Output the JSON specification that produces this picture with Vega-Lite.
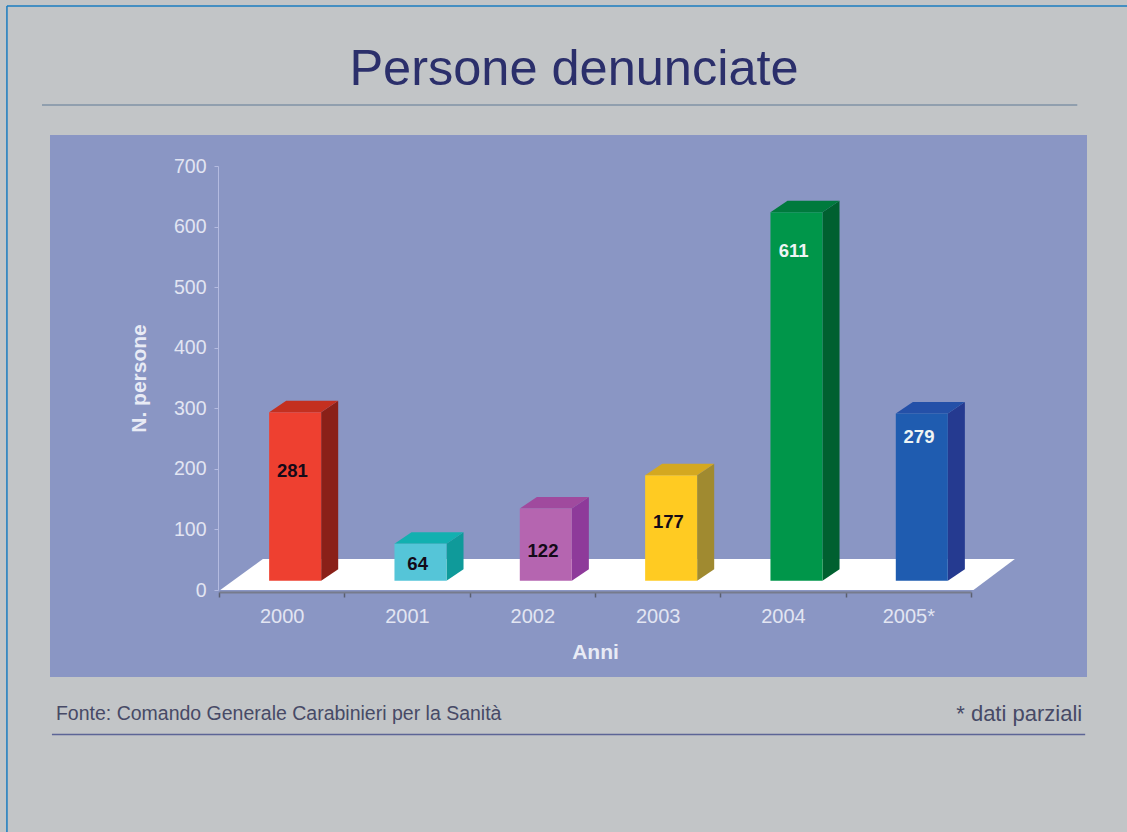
{
"$schema":"https://vega.github.io/schema/vega-lite/v6.json",
"autosize":{"type":"none"},
"padding":{"left":50,"top":135,"right":40,"bottom":155},
"width":1037,"height":542,
"background":"#c2c5c7",
"config":{"view":{"fill":"#8a96c4","stroke":null},"font":"Liberation Sans"},
"title":{"text":"Persone denunciate","font":"Liberation Sans","fontSize":50.5,"fontWeight":"normal","color":"#2b2f6b","anchor":"middle","baseline":"alphabetic","offset":-130,"dx":5.5},
"data":{"values":[
{"year":"2000","value":281,"labelAt":196},
{"year":"2001","value":64,"labelAt":43},
{"year":"2002","value":122,"labelAt":64},
{"year":"2003","value":177,"labelAt":112},
{"year":"2004","value":611,"labelAt":559},
{"year":"2005","value":279,"labelAt":252}
]},
"transform":[
{"calculate":"toNumber(datum.year)-2000","as":"idx"},
{"calculate":"datum.idx+0.4","as":"xl"},
{"calculate":"datum.idx+0.815","as":"xr"},
{"calculate":"datum.value+12.5","as":"top"}
],
"resolve":{"axis":{"x":"independent","y":"independent"}},
"layer":[
{"data":{"values":[{"fx":0.01,"lo":0,"hi":0},{"fx":0.35,"lo":0,"hi":51},{"fx":6.02,"lo":0,"hi":51},{"fx":6.35,"lo":51,"hi":51}]},
"mark":{"type":"area","color":"#ffffff","orient":"vertical"},
"encoding":{
"x":{"field":"fx","type":"quantitative","scale":{"domain":[0,6],"range":[169,921],"nice":false,"zero":false},
"axis":{"orient":"bottom","values":[0,1,2,3,4,5,6],"labels":false,"title":null,"grid":false,"offset":-85,"domainColor":"#767b8c","domainWidth":2,"tickColor":"#5a5f70","tickSize":5,"tickWidth":1.5}},
"y":{"field":"lo","type":"quantitative","stack":null,"scale":{"domain":[0,700],"range":[455,31],"nice":false},
"axis":{"orient":"left","values":[0,100,200,300,400,500,600,700],"title":"N. persone","titleFont":"Liberation Sans","titleFontSize":21,"titleFontWeight":"bold","titleColor":"#e8ebf5","titlePadding":24,"grid":false,"offset":-168,"domainColor":"#b4bbe0","tickColor":"#b4bbe0","tickSize":4,"labelColor":"#e2e5f2","labelFontSize":19.5,"labelFont":"Liberation Sans","labelPadding":8}},
"y2":{"field":"hi"}
}},
{"mark":{"type":"area","orient":"vertical"},
"transform":[{"calculate":"[0,1]","as":"t"},{"flatten":["t"]},
{"calculate":"datum.xr+0.136*datum.t","as":"px"},
{"calculate":"15.4+19*datum.t","as":"lo"},
{"calculate":"datum.top+19*datum.t","as":"hi"},
{"calculate":"datum.year+' side'","as":"face"}],
"encoding":{
"x":{"field":"px","type":"quantitative","scale":{"domain":[0,6],"range":[169,921],"nice":false,"zero":false},"axis":null},
"y":{"field":"lo","type":"quantitative","stack":null,"scale":{"domain":[0,700],"range":[455,31],"nice":false},"axis":null},
"y2":{"field":"hi"},
"color":{"field":"face","type":"nominal","legend":null,"scale":{"domain":["2000 side","2001 side","2002 side","2003 side","2004 side","2005 side","2000 top","2001 top","2002 top","2003 top","2004 top","2005 top","2000 front","2001 front","2002 front","2003 front","2004 front","2005 front"],"range":["#8a2018","#0f9a9a","#8e3a9a","#a08a30","#006030","#253a90","#c43020","#12b0b0","#a04a9e","#d4a820","#007a3d","#2450a8","#ee4030","#55c5d8","#b565b0","#ffcb22","#00964a","#1f5cb0"]}}
}},
{"mark":{"type":"area","orient":"vertical"},
"transform":[{"calculate":"[0,1,2,3]","as":"t"},{"flatten":["t"]},
{"calculate":"datum.t==0?datum.xl:datum.t==1?datum.xl+0.136:datum.t==2?datum.xr:datum.xr+0.136","as":"px"},
{"calculate":"datum.t==3?datum.top+19:datum.top","as":"lo"},
{"calculate":"datum.t==0?datum.top:datum.top+19","as":"hi"},
{"calculate":"datum.year+' top'","as":"face"}],
"encoding":{
"x":{"field":"px","type":"quantitative","scale":{"domain":[0,6],"range":[169,921],"nice":false,"zero":false},"axis":null},
"y":{"field":"lo","type":"quantitative","stack":null,"scale":{"domain":[0,700],"range":[455,31],"nice":false},"axis":null},
"y2":{"field":"hi"},
"color":{"field":"face","type":"nominal","legend":null}
}},
{"mark":{"type":"rect"},
"transform":[{"calculate":"datum.year+' front'","as":"face"},{"calculate":"15.4","as":"lo"}],
"encoding":{
"x":{"field":"xl","type":"quantitative","scale":{"domain":[0,6],"range":[169,921],"nice":false,"zero":false},
"axis":{"orient":"bottom","values":[0.5,1.5,2.5,3.5,4.5,5.5],"labelExpr":"datum.value==5.5?'2005*':''+(1999.5+datum.value)","ticks":false,"domain":false,"grid":false,"offset":-85,"title":"Anni","titleFont":"Liberation Sans","titleFontSize":21,"titleFontWeight":"bold","titleColor":"#e8ebf5","titlePadding":15,"labelColor":"#e2e5f2","labelFontSize":20,"labelFont":"Liberation Sans","labelPadding":14}},
"x2":{"field":"xr"},
"y":{"field":"lo","type":"quantitative","scale":{"domain":[0,700],"range":[455,31],"nice":false},"axis":null},
"y2":{"field":"top"},
"color":{"field":"face","type":"nominal","legend":null}
}},
{"mark":{"type":"text","font":"Liberation Sans","fontWeight":"bold","fontSize":18.5,"baseline":"middle","align":"center"},
"transform":[{"calculate":"datum.idx+0.585","as":"cx"}],
"encoding":{
"x":{"field":"cx","type":"quantitative","scale":{"domain":[0,6],"range":[169,921],"nice":false,"zero":false},"axis":null},
"y":{"field":"labelAt","type":"quantitative","scale":{"domain":[0,700],"range":[455,31],"nice":false},"axis":null},
"text":{"field":"value","type":"quantitative"},
"color":{"condition":{"test":"datum.value==611||datum.value==279","value":"#eef4f4"},"value":"#140a18"}
}},
{"data":{"values":[{"note":"Fonte: Comando Generale Carabinieri per la Sanità"}]},
"mark":{"type":"text","font":"Liberation Sans","fontSize":19.5,"align":"left","baseline":"middle","color":"#474a66"},
"encoding":{
"x":{"datum":-1.301,"type":"quantitative","scale":{"domain":[0,6],"range":[169,921],"nice":false,"zero":false},"axis":null},
"y":{"datum":-204.7,"type":"quantitative","scale":{"domain":[0,700],"range":[455,31],"nice":false},"axis":null},
"text":{"field":"note"}
}},
{"data":{"values":[{"note":"* dati parziali"}]},
"mark":{"type":"text","font":"Liberation Sans","fontSize":22,"align":"right","baseline":"middle","color":"#474a66"},
"encoding":{
"x":{"datum":6.887,"type":"quantitative","scale":{"domain":[0,6],"range":[169,921],"nice":false,"zero":false},"axis":null},
"y":{"datum":-204.7,"type":"quantitative","scale":{"domain":[0,700],"range":[455,31],"nice":false},"axis":null},
"text":{"field":"note"}
}},
{"data":{"values":[{"from":-1.4126,"to":6.848,"at":800.7,"tone":"#5f7a96","w":1.2},{"from":-1.333,"to":6.911,"at":-238.6,"tone":"#5c6596","w":1.6},{"from":-1.692,"to":7.247,"at":964.2,"tone":"#1a7cc0","w":1.5}]},
"mark":{"type":"rule"},
"encoding":{
"x":{"field":"from","type":"quantitative","scale":{"domain":[0,6],"range":[169,921],"nice":false,"zero":false},"axis":null},
"x2":{"field":"to"},
"y":{"field":"at","type":"quantitative","scale":{"domain":[0,700],"range":[455,31],"nice":false},"axis":null},
"stroke":{"field":"tone","type":"nominal","scale":null,"legend":null},
"strokeWidth":{"field":"w","type":"quantitative","scale":null,"legend":null}
}},
{"data":{"values":[{"note":"frame"}]},
"mark":{"type":"rule","color":"#1a7cc0","strokeWidth":1.5},
"encoding":{
"x":{"datum":-1.692,"type":"quantitative","scale":{"domain":[0,6],"range":[169,921],"nice":false,"zero":false},"axis":null},
"y":{"datum":964.2,"type":"quantitative","scale":{"domain":[0,700],"range":[455,31],"nice":false},"axis":null},
"y2":{"datum":-400}
}}
]
}
